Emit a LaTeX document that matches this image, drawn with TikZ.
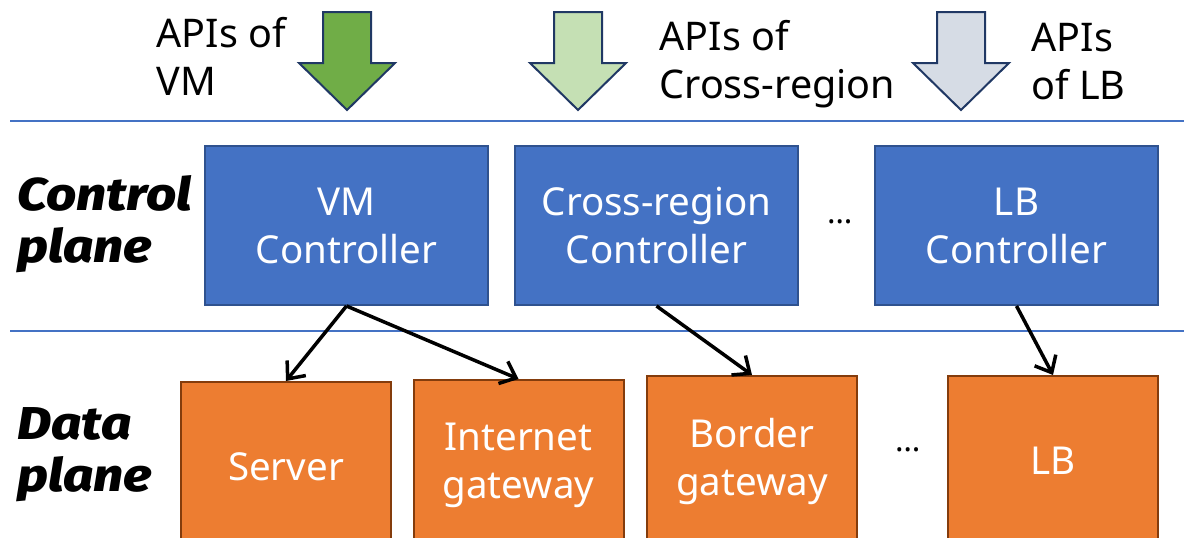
\documentclass[tikz,border=0pt]{standalone}
\usepackage{fontspec}
\setmainfont{Noto Sans}
\newfontfamily\planefont{Fira Sans ExtraBold Italic}[FakeStretch=1.15]
\usepackage{tikz}
\usetikzlibrary{arrows.meta,positioning}

\definecolor{ctrlblue}{HTML}{4472C4}
\definecolor{ctrledge}{HTML}{2F528F}
\definecolor{dataorange}{HTML}{ED7D31}
\definecolor{dataedge}{HTML}{843C0C}
\definecolor{apidark}{HTML}{203864}
\definecolor{apigreen}{HTML}{70AD47}
\definecolor{apilight}{HTML}{C5E0B4}
\definecolor{apigray}{HTML}{D6DCE5}

\tikzset{
  ctrlbox/.style={draw=ctrledge, line width=2pt, fill=ctrlblue, text=white,
    minimum width=283pt, minimum height=159pt, align=center,
    font=\fontsize{38.5}{48}\selectfont},
  databox/.style={draw=dataedge, line width=2pt, fill=dataorange, text=white,
    minimum width=210pt, minimum height=170pt, anchor=north, align=center,
    font=\fontsize{38.5}{48}\selectfont},
  planelabel/.style={anchor=west, align=left,
    font=\fontsize{46}{52}\planefont},
  apilabel/.style={anchor=west, align=left, font=\fontsize{39.5}{48}\selectfont},
  push/.style={-{Straight Barb[length=14pt,width=24pt]}, line width=3.5pt},
}

\begin{document}
\begin{tikzpicture}[x=1pt,y=-1pt]
\useasboundingbox (0,0) rectangle (1184,538);
\clip (0,0) rectangle (1184,538);

% plane separators
\draw[ctrlblue, line width=1.2pt] (10,121) -- (1184,121);
\draw[ctrlblue, line width=1.2pt] (10,331) -- (1184,331);

% API block arrows
\foreach \cx/\col in {347/apigreen, 578/apilight, 961/apigray}
  \filldraw[draw=apidark, fill=\col, line width=2pt, line join=miter]
    (\cx-24,12) -- (\cx+24,12) -- (\cx+24,63) -- (\cx+48,63) -- (\cx,110)
    -- (\cx-48,63) -- (\cx-24,63) -- cycle;

\node[apilabel] (apivm) at (153,56) {APIs of\\VM};
\node[apilabel] (apicr) at (656,64) {APIs of\\Cross-region};
\node[apilabel] (apilb) at (1028,62) {APIs\\of LB};

% control plane
\node[planelabel] (ctrl) at (14,224) {Control\\plane};
\node[ctrlbox] (vmc) at (346.5,225.5) {VM\\Controller};
\node[ctrlbox] (crc) at (656.5,225.5) {Cross-region\\Controller};
\node[ctrlbox] (lbc) at (1016.5,225.5) {LB\\Controller};
\node[font=\fontsize{32}{40}\selectfont] (cdots) at (840,222) {\dots};

% data plane
\node[planelabel] (data) at (14,455) {Data\\plane};
\node[databox] (srv) at (286,381) {Server};
\node[databox] (igw) at (518.5,379) {Internet\\gateway};
\node[databox] (bgw) at (752,375) {Border\\gateway};
\node[databox] (lb) at (1053,375) {LB};
\node[font=\fontsize{32}{40}\selectfont] (ddots) at (908,450) {\dots};

% controllers push config down
\draw[push] (vmc.south) -- (srv.north);
\draw[push] (vmc.south) -- (igw.north);
\draw[push] (crc.south) -- (bgw.north);
\draw[push] (lbc.south) -- (lb.north);

\end{tikzpicture}
\end{document}
